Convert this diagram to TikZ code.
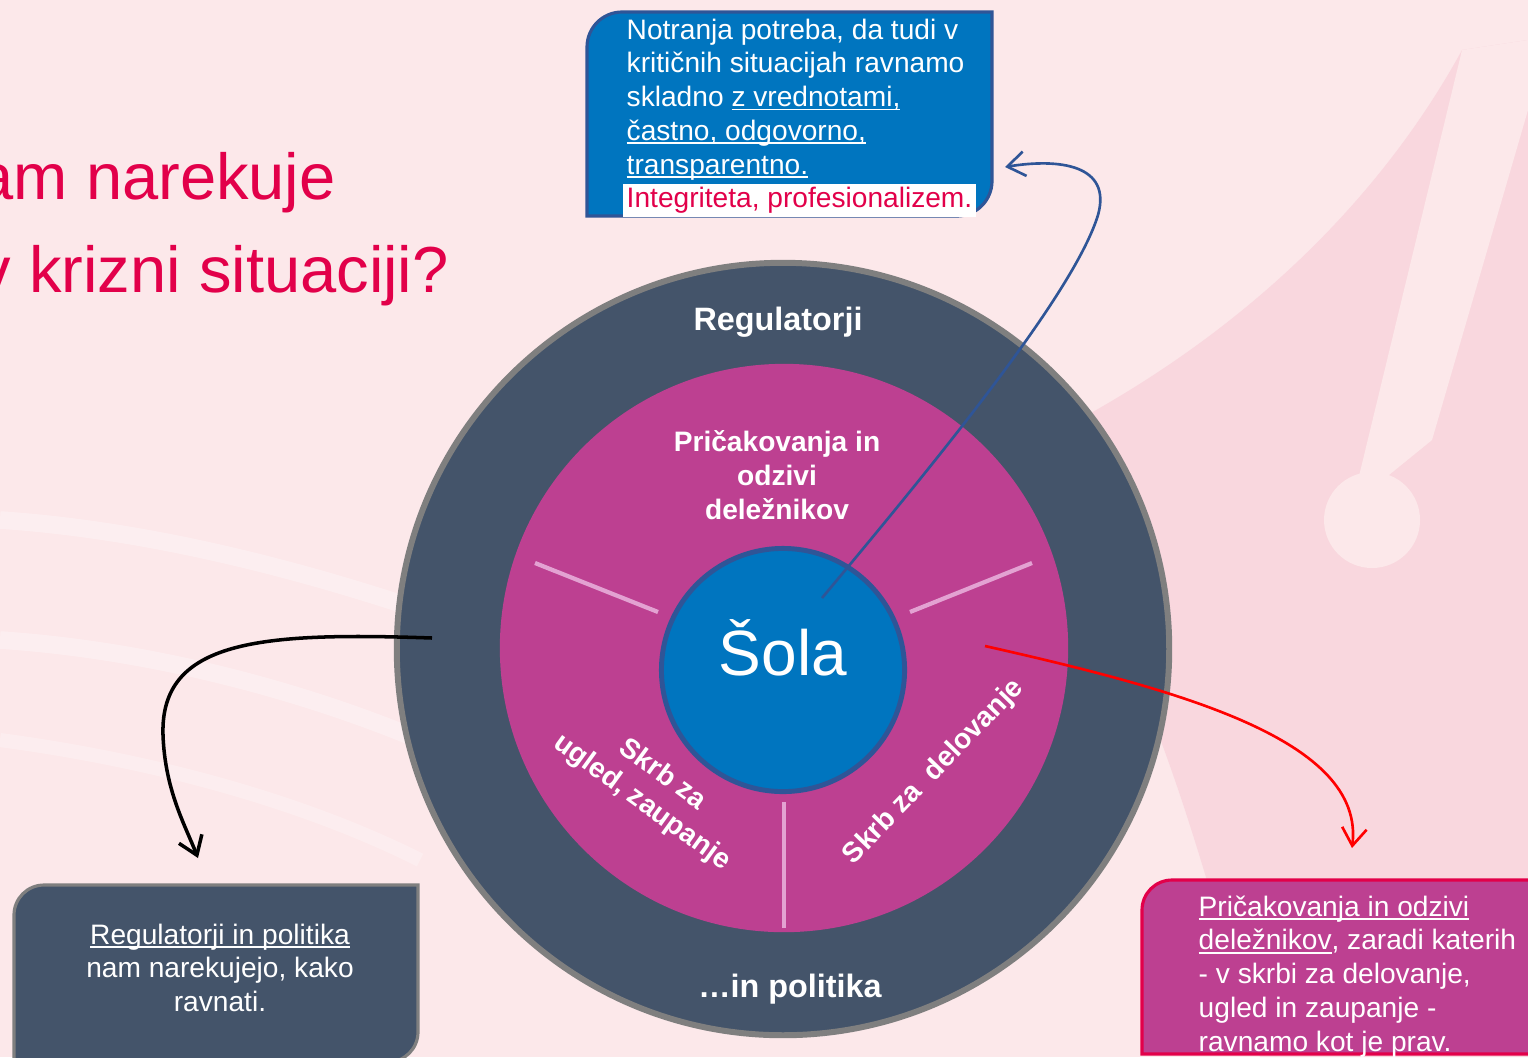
\documentclass[tikz,border=0pt]{standalone}
\usepackage{fontspec}
\setmainfont{Liberation Sans}
\usetikzlibrary{arrows.meta}

\definecolor{bgpink}{HTML}{FCE8EA}
\definecolor{bgdark}{HTML}{F9D7DE}
\definecolor{slate}{HTML}{44546A}
\definecolor{ringgray}{HTML}{7F7F7F}
\definecolor{magenta}{HTML}{BD4091}
\definecolor{spokepink}{HTML}{E3A2D2}
\definecolor{sblue}{HTML}{0075BF}
\definecolor{dblue}{HTML}{2F5597}
\definecolor{crimson}{HTML}{E2004A}
\definecolor{redline}{HTML}{FF0000}

% underline that sits just below the baseline
\newcommand{\lowline}[1]{\setbox0\hbox{#1}\rlap{\rule[-1.1pt]{\wd0}{0.5pt}}\box0}

\tikzset{
  boxtext/.style={font=\fontsize{8}{9.6}\selectfont, text=white, inner sep=0pt},
  ringlabel/.style={font=\bfseries\fontsize{8}{9.7}\selectfont, text=white, inner sep=0pt, align=center},
  spoke/.style={draw=spokepink, line width=1.2pt},
  link/.style={line width=0.75pt, -{Straight Barb[length=5pt,width=7pt]}},
}

\begin{document}
\begin{tikzpicture}[x=0.01cm, y=-0.01cm]
				% background
				\fill[bgpink] (0,0) rectangle (1528,1057);
				\useasboundingbox (0,0) rectangle (1528,1057);
				\clip (0,0) rectangle (1528,1057);
				\fill[bgdark] (1040,440) .. controls (1240,340) and (1380,200) .. (1462,50) -- (1528,40) -- (1528,1057) -- (1260,1057) .. controls (1210,900) and (1180,760) .. (1100,600) -- cycle;
				\fill[bgpink] (1462,50) -- (1528,40) -- (1528,110) -- (1432,440) -- (1352,505) -- cycle;
				\fill[bgpink] (1372,520) circle[radius=48];
				\draw[white, opacity=0.3, line width=5pt] (0,520) .. controls (150,530) and (300,570) .. (420,610);
				\draw[white, opacity=0.3, line width=5pt] (0,640) .. controls (150,650) and (300,690) .. (420,740);
				\draw[white, opacity=0.25, line width=4pt] (0,740) .. controls (150,760) and (300,800) .. (420,860);
				% title
				\node[font=\fontsize{18.5}{26}\selectfont, text=crimson, inner sep=0pt, anchor=base west] (q1) at (-23,199) {am narekuje};
				\node[font=\fontsize{18.5}{26}\selectfont, text=crimson, inner sep=0pt, anchor=base west] (q2) at (-22,292) {v krizni situaciji?};
				% rings
				\node[circle, fill=slate, draw=ringgray, line width=1.7pt, minimum size=7.72cm, inner sep=0pt] (ring) at (783,649) {};
				\node[circle, fill=magenta, minimum size=5.68cm, inner sep=0pt] (stakes) at (784,648) {};
				\draw[spoke] (535,563) -- (658,612);
				\draw[spoke] (910,612) -- (1032,563);
				\draw[spoke] (784,802) -- (784,928);
				\node[circle, fill=sblue, draw=dblue, line width=1.4pt, minimum size=2.43cm, inner sep=0pt] (sola) at (783,670) {};
				\node[font=\fontsize{18.2}{20}\selectfont, text=white, inner sep=0pt] (solatext) at (783,648) {Šola};
				\node[ringlabel, font=\bfseries\fontsize{9.2}{11}\selectfont, anchor=base] (regtop) at (778,330) {Regulatorji};
				\node[ringlabel, font=\bfseries\fontsize{9.2}{11}\selectfont, anchor=base] (regbot) at (790,997) {…in politika};
				\node[ringlabel, anchor=north] (expect) at (777,430) {Pričakovanja in\\odzivi\\deležnikov};
				\node[ringlabel, rotate=-36] (image) at (652,789) {Skrb za\\ugled, zaupanje};
				\node[ringlabel, rotate=46] (operate) at (934,772) {Skrb za~ delovanje};
				% boxes
				\draw[fill=sblue, draw=dblue, line width=0.9pt] (587,114) [rounded corners=3.5mm] -- (587,12) -- (790,12) [sharp corners] -- (992,12) -- (992,114) [rounded corners=3.5mm] -- (992,216) -- (790,216) [sharp corners] -- (587,216) -- cycle;
				\node[boxtext, anchor=north west, align=left] (note) at (626,18) {Notranja potreba, da tudi v\\kritičnih situacijah ravnamo\\skladno \lowline{z vrednotami,}\\\lowline{častno, odgovorno,}\\\lowline{transparentno.}\\\hspace*{-1pt}{\fboxsep=1pt\colorbox{white}{\textcolor{crimson}{Integriteta, profesionalizem.}}}};
				\draw[fill=slate, draw=ringgray, line width=0.9pt] (14,970) [rounded corners=3mm] -- (14,885) -- (216,885) [sharp corners] -- (418,885) -- (418,970) [rounded corners=3mm] -- (418,1062) -- (216,1062) [sharp corners] -- (14,1062) -- cycle;
				\node[boxtext, anchor=north, align=center] (rule) at (220,923) {\lowline{Regulatorji in politika}\\nam narekujejo, kako\\ravnati.};
				\draw[fill=magenta, draw=crimson, line width=0.9pt] (1142,970) [rounded corners=3mm] -- (1142,880) -- (1340,880) [sharp corners] -- (1545,880) -- (1545,1054) -- (1142,1054) -- cycle;
				\node[boxtext, anchor=north west, align=left] (stake) at (1198,895) {\lowline{Pričakovanja in odzivi}\\\lowline{deležnikov}, zaradi katerih\\- v skrbi za delovanje,\\ugled in zaupanje -\\ravnamo kot je prav.};
				% connectors
				\coordinate (bluefrom) at (822,598);
				\coordinate (blueto) at (1005,167);
				\coordinate (blackfrom) at (432,638);
				\coordinate (blackto) at (198,858);
				\coordinate (redfrom) at (985,646);
				\coordinate (redto) at (1352,848);
				\draw[link, draw=dblue] (bluefrom) .. controls (950,445) and (1075,290) .. (1098,215) .. controls (1112,165) and (1060,158) .. (blueto);
				\draw[link, draw=black, line width=1pt] (blackfrom) .. controls (260,632) and (160,640) .. (163,735) .. controls (165,790) and (185,825) .. (blackto);
				\draw[link, draw=redline] (redfrom) .. controls (1180,690) and (1365,740) .. (redto);
			\end{tikzpicture}
\end{document}
